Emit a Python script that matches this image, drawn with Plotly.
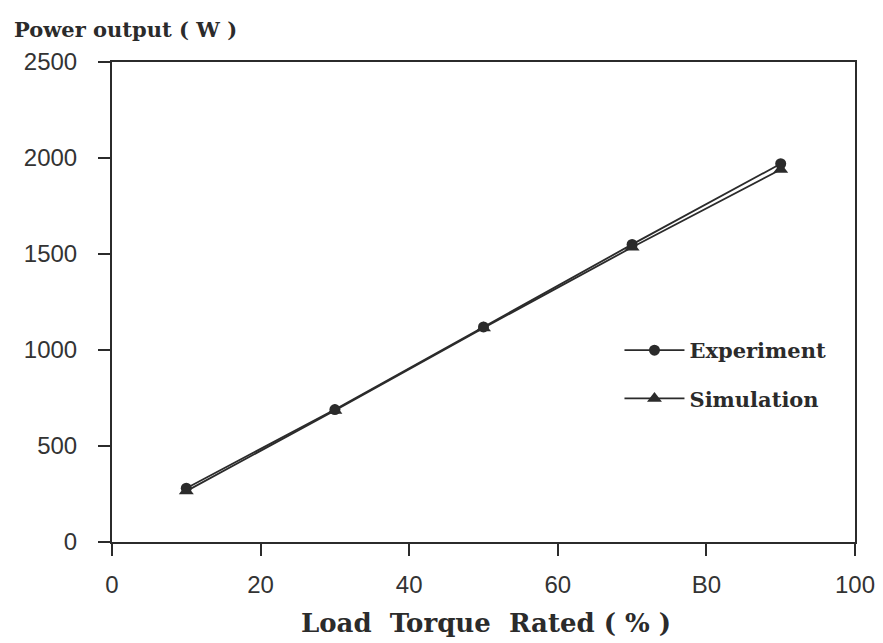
import plotly.graph_objects as go

load_pct = [10, 30, 50, 70, 90]
experiment = [280, 690, 1120, 1550, 1970]
simulation = [265, 685, 1115, 1535, 1940]
x_ticks = [0, 20, 40, 60, 80, 100]
x_tick_labels = ["0", "20", "40", "60", "B0", "100"]
y_ticks = [0, 500, 1000, 1500, 2000, 2500]

INK = "#2b2b2b"
SERIF = "DejaVu Serif, Liberation Serif, serif"
SANS = "Liberation Sans, Arial, sans-serif"

fig = go.Figure()
fig.add_trace(go.Scatter(
    x=load_pct, y=experiment, name="<b>Experiment</b>", mode="lines+markers",
    legendgroup="exp",
    line=dict(color=INK, width=1.8),
    marker=dict(symbol="circle", size=11, color=INK)))
fig.add_trace(go.Scatter(
    x=load_pct, y=simulation, name="<b>Simulation</b>", mode="lines+markers",
    legendgroup="sim",
    line=dict(color=INK, width=1.8),
    marker=dict(symbol="triangle-up", size=13, color=INK)))

fig.update_layout(
    width=883, height=643,
    margin=dict(l=112, r=28, t=62, b=101, autoexpand=False),
    paper_bgcolor="white", plot_bgcolor="white",
    font=dict(family=SANS, color=INK),
    showlegend=True,
    legend=dict(
        x=0.683, y=0.349, xanchor="left", yanchor="middle",
        bgcolor="rgba(0,0,0,0)", borderwidth=0,
        font=dict(family=SERIF, size=21, color=INK),
        itemwidth=60, tracegroupgap=18,
    ),
    xaxis=dict(
        range=[0, 100], tickvals=x_ticks, ticktext=x_tick_labels,
        showgrid=False, zeroline=False, automargin=False,
        showline=True, linecolor=INK, linewidth=2, mirror=True,
        ticks="outside", ticklen=12, tickwidth=2, tickcolor=INK,
        tickfont=dict(size=24, family=SANS, color="#333333"),
        ticklabelstandoff=8,
    ),
    yaxis=dict(
        range=[0, 2500], tickvals=y_ticks,
        showgrid=False, zeroline=False, automargin=False,
        showline=True, linecolor=INK, linewidth=2, mirror=True,
        ticks="outside", ticklen=12, tickwidth=2, tickcolor=INK,
        tickfont=dict(size=24, family=SANS, color="#333333"),
        ticklabelstandoff=16,
    ),
    annotations=[
        dict(text="<b>Power output ( W )</b>", xref="paper", yref="paper",
             x=-0.134, y=1.0, xanchor="left", yanchor="bottom", yshift=18,
             showarrow=False,
             font=dict(family=SERIF, size=21, color=INK)),
        dict(text="<b>Load  Torque  Rated ( % )</b>", xref="paper", yref="paper",
             x=0.503, y=0, xanchor="center", yanchor="top", yshift=-64,
             showarrow=False,
             font=dict(family=SERIF, size=26, color=INK)),
    ],
)

fig.write_html("out.html")
